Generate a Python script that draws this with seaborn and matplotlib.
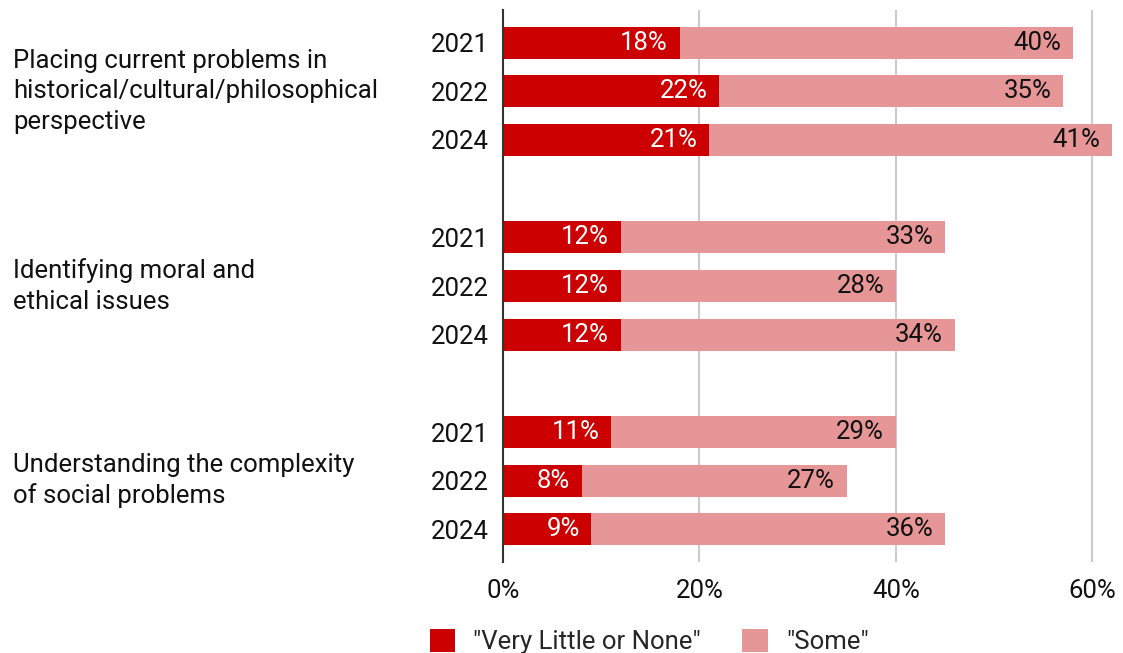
import matplotlib
matplotlib.use("Agg")
import matplotlib.pyplot as plt
import seaborn as sns
import pandas as pd
from matplotlib.patches import Patch

sns.set_theme(style="white")
plt.rcParams["font.family"] = ["Roboto", "DejaVu Sans"]

# Data
categories = [
    "Placing current problems in\nhistorical/cultural/philosophical\nperspective",
    "Identifying moral and\nethical issues",
    "Understanding the complexity\nof social problems",
]
years = ["2021", "2022", "2024"]
very_little = [18, 22, 21, 12, 12, 12, 11, 8, 9]
some = [40, 35, 41, 33, 28, 34, 29, 27, 36]
series_names = ['"Very Little or None"', '"Some"']
colors = ["#CC0000", "#E69696"]
x_ticks = [0, 20, 40, 60]

FS = 18.5
TXT = "#111111"

# Row positions: three years per category, one blank slot between categories
positions = []
for g in range(len(categories)):
    for j in range(len(years)):
        positions.append(g * 4 + j)

df = pd.DataFrame({
    "pos": positions,
    "year": years * len(categories),
    "low": very_little,
    "some": some,
})
df["total"] = df["low"] + df["some"]

fig = plt.figure(figsize=(11.23, 6.53), dpi=100)
ax = fig.add_axes([503 / 1123, 1 - 562 / 653, (1117 - 503) / 1123, (562 - 10) / 653])

sns.barplot(data=df, x="total", y="pos", orient="h", native_scale=True,
            color=colors[1], saturation=1, width=0.66, ax=ax, linewidth=0)
sns.barplot(data=df, x="low", y="pos", orient="h", native_scale=True,
            color=colors[0], saturation=1, width=0.66, ax=ax, linewidth=0)

ax.set_xlim(0, 62.5)
ax.set_ylim(10.67, -0.67)
ax.set_xlabel("")
ax.set_ylabel("")

# Value labels
for _, r in df.iterrows():
    ax.text(r["low"] - 1.2, r["pos"], f"{r['low']}%", ha="right", va="center",
            color="white", fontsize=FS)
    ax.text(r["total"] - 1.2, r["pos"], f"{r['some']}%", ha="right", va="center",
            color=TXT, fontsize=FS)

ax.set_yticks(df["pos"])
ax.set_yticklabels(df["year"], fontsize=FS, color=TXT)
ax.tick_params(axis="y", length=0, pad=10)
ax.set_xticks(x_ticks)
ax.set_xticklabels([f"{t}%" for t in x_ticks], fontsize=FS, color=TXT)
ax.tick_params(axis="x", length=0, pad=12)

for t in x_ticks[1:]:
    ax.axvline(t, color="#cccccc", lw=1.5, zorder=0)
ax.set_axisbelow(True)

for s in ["top", "right", "bottom"]:
    ax.spines[s].set_visible(False)
ax.spines["left"].set_color("#333333")
ax.spines["left"].set_linewidth(1.5)

# Category labels
for g, cat in enumerate(categories):
    y_disp = ax.transData.transform((0, g * 4 + 1))[1]
    y_fig = fig.transFigure.inverted().transform((0, y_disp))[1]
    fig.text(13 / 1123, y_fig, cat, ha="left", va="center", fontsize=FS,
             color=TXT, linespacing=1.33)

handles = [Patch(facecolor=c, edgecolor="none") for c in colors]
fig.legend(handles, series_names, loc="lower center", ncol=2, frameon=False,
           bbox_to_anchor=(0.578, -0.037), fontsize=FS, handlelength=1.0,
           handleheight=1.0, columnspacing=1.6, handletextpad=0.7)

fig.savefig("out.png", dpi=100)
